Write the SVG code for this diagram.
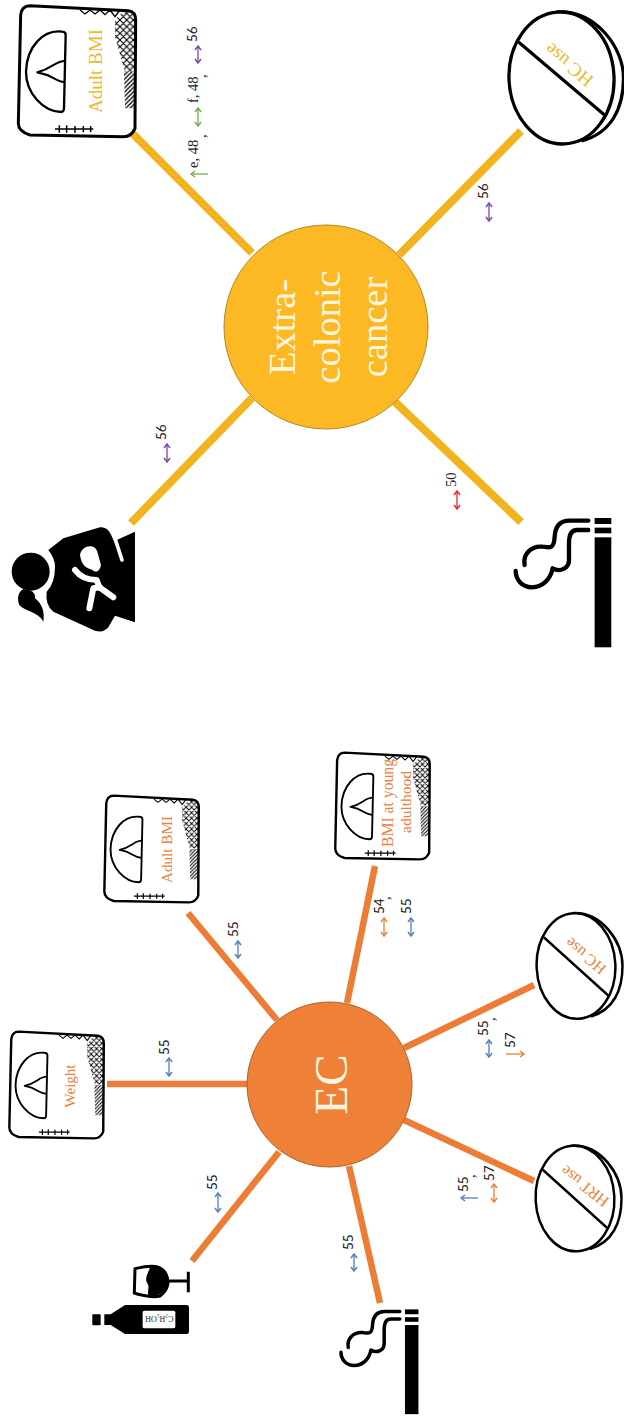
<svg xmlns="http://www.w3.org/2000/svg" width="624" height="1417" viewBox="0 0 624 1417">
<style>
.y{stroke:#F2B41E;stroke-width:8;fill:none}
.o{stroke:#ED7D35;stroke-width:6.5;fill:none}
.k{fill:none;stroke:#000;stroke-linecap:round;stroke-linejoin:round}
.ser{font-family:"Liberation Serif","Times New Roman",serif}
.san{font-family:Lato,"Liberation Sans",sans-serif;font-size:13.5px;fill:#222}
.ref{font-family:"Liberation Serif",serif;font-size:14.5px;fill:#222}
.hd{font-family:"Liberation Serif",serif;fill:#FFF6E0;text-anchor:middle}
.ty{fill:#EFB72E;font-family:"Liberation Serif",serif;text-anchor:middle}
.to{fill:#E98240;font-family:"Liberation Serif",serif;text-anchor:middle}
.ag{stroke:#6FAE4C;marker-end:url(#mg)}
.ap{stroke:#7449A6;marker-end:url(#mp)}
.ar{stroke:#DD2B35;marker-end:url(#mr)}
.ab{stroke:#4E7FC0;marker-end:url(#mb)}
.ao{stroke:#E9813C;marker-end:url(#mo)}
.ag.d{marker-start:url(#mg)}.ap.d{marker-start:url(#mp)}.ar.d{marker-start:url(#mr)}.ab.d{marker-start:url(#mb)}.ao.d{marker-start:url(#mo)}
.a{stroke-width:1.3;fill:none}
</style>
<defs>
<marker id="mg" markerUnits="userSpaceOnUse" markerWidth="10" markerHeight="10" refX="7" refY="5" orient="auto-start-reverse"><path d="M3 2L7 5L3 8" fill="none" stroke="#6FAE4C" stroke-width="1.4"/></marker>
<marker id="mp" markerUnits="userSpaceOnUse" markerWidth="10" markerHeight="10" refX="7" refY="5" orient="auto-start-reverse"><path d="M3 2L7 5L3 8" fill="none" stroke="#7449A6" stroke-width="1.4"/></marker>
<marker id="mr" markerUnits="userSpaceOnUse" markerWidth="10" markerHeight="10" refX="7" refY="5" orient="auto-start-reverse"><path d="M3 2L7 5L3 8" fill="none" stroke="#DD2B35" stroke-width="1.4"/></marker>
<marker id="mb" markerUnits="userSpaceOnUse" markerWidth="10" markerHeight="10" refX="7" refY="5" orient="auto-start-reverse"><path d="M3 2L7 5L3 8" fill="none" stroke="#4E7FC0" stroke-width="1.4"/></marker>
<marker id="mo" markerUnits="userSpaceOnUse" markerWidth="10" markerHeight="10" refX="7" refY="5" orient="auto-start-reverse"><path d="M3 2L7 5L3 8" fill="none" stroke="#E9813C" stroke-width="1.4"/></marker>
<pattern id="xh" patternUnits="userSpaceOnUse" width="20" height="20"><path d="M0 0L20 20M20 0L0 20M-5 15L5 25M15 -5L25 5" stroke="#000" stroke-width="3.4" fill="none"/></pattern>
<pattern id="sh" patternUnits="userSpaceOnUse" width="13" height="13"><path d="M-3 3L3 -3M0 13L13 0M10 16L16 10" stroke="#000" stroke-width="4" fill="none"/></pattern>
<clipPath id="bc"><path d="M90 17L385 32Q407 35 407 60L405 385Q395 410 370 410L90 405Q55 395 55 370L62 45Q65 17 90 17Z"/></clipPath>
<g id="scale" transform="scale(.3333)">
<path d="M90 17L385 32Q407 35 407 60L405 385Q395 410 370 410L90 405Q55 395 55 370L62 45Q65 17 90 17Z" fill="#fff" stroke="#000" stroke-width="9"/>
<g clip-path="url(#bc)">
<path d="M345 60L372 32H410V215H375L345 110Z" fill="url(#xh)"/>
<path d="M372 215H410V325H375Z" fill="url(#sh)"/>
<path d="M240 30L255 42L270 30L285 42L300 30L315 44L330 30L345 50L360 30" fill="none" stroke="#000" stroke-width="4"/>
</g>
<path d="M186 95C130 88 80 140 78 215C78 280 130 335 183 336Q192 336 192 325L197 105Q197 95 186 95Z" fill="none" stroke="#000" stroke-width="7"/>
<path d="M195 183C165 183 160 205 112 217C160 225 165 245 193 246" fill="none" stroke="#000" stroke-width="6.5" stroke-linejoin="round"/>
<path d="M165 387H280M178 376V398M200 376V398M225 378V398M250 378V397M272 378V396" fill="none" stroke="#000" stroke-width="4.5"/>
</g>
<g id="pill">
<path d="M-5 -66C35 -68 62 -30 62 0C62 30 50 55 20 63" fill="none" stroke="#000" stroke-width="3.3"/>
<ellipse cx="0" cy="0" rx="52.5" ry="66" transform="rotate(-3)" fill="#fff" stroke="#000" stroke-width="3.3"/>
<path d="M-43 -36L43 37" stroke="#000" stroke-width="3.2" fill="none"/>
</g>
<g id="smoke">
<rect x="848" y="562" width="50" height="330"/>
<rect x="848" y="504" width="50" height="18"/>
<rect x="848" y="533" width="50" height="17"/>
<path class="k" stroke-width="13" stroke-linecap="butt" d="M829 512H772C742 512 730 530 728 560C726 600 712 592 690 590C655 588 632 615 638 645"/>
<path class="k" stroke-width="13" stroke-linecap="butt" d="M829 540H795C778 540 771 555 771 580V630C771 655 745 668 722 655C715 690 690 712 660 712C630 712 612 690 611 663"/>
</g>
</defs>
<rect width="624" height="1417" fill="#fff"/>

<g id="connectors">
<path class="y" d="M132 133L252 253"/>
<path class="y" d="M521 131L399 255"/>
<path class="y" d="M131 523L252 398"/>
<path class="y" d="M521 522L395 402"/>
<path class="o" d="M188 913L277 1020"/>
<path class="o" d="M107 1084H248"/>
<path class="o" d="M192 1261L279 1152"/>
<path class="o" d="M375 866L347 1003"/>
<path class="o" d="M534 985L404 1048"/>
<path class="o" d="M534 1181L404 1120"/>
<path class="o" d="M380 1303L349 1166"/>
</g>

<g id="node-extracolonic">
<circle cx="326" cy="327" r="102" fill="#FDB924" stroke="#B08A2A" stroke-width="1"/>
<g class="hd" font-size="38.5">
<text transform="translate(295 327) rotate(-90)">Extra-</text>
<text transform="translate(340 327) rotate(-90)">colonic</text>
<text transform="translate(387 327) rotate(-90)">cancer</text>
</g>
</g>
<g id="node-ec">
<circle cx="329.5" cy="1084.5" r="82.5" fill="#EF8038" stroke="#A9612F" stroke-width="1"/>
<text class="hd" font-size="47" transform="translate(347 1084.5) rotate(-90)">EC</text>
</g>

<g id="node-y-adult-bmi">
<use href="#scale"/>
<text class="ty" font-size="19" transform="translate(102 71) rotate(-90)">Adult BMI</text>
</g>
<g id="node-y-hc">
<use href="#pill" transform="translate(561.5 78)"/>
<text class="ty" font-size="19" transform="translate(573 60) rotate(220)">HC use</text>
</g>
<g id="node-y-parity" transform="translate(0 350) scale(.3333)">
<path d="M145 600L190 565L300 532Q322 530 332 552L350 590V570L405 545V817L345 797L325 832Q310 850 285 842L160 785Q135 765 140 725Q165 700 165 650Q165 625 145 600Z"/>
<circle cx="92" cy="665" r="69" fill="#fff"/>
<circle cx="92" cy="665" r="57"/>
<path d="M70 718C55 725 50 745 58 765C75 785 115 785 130 815C135 785 125 760 105 745C108 730 95 718 70 718Z"/>
<path d="M345 565L366 630" stroke="#fff" stroke-width="11" stroke-linecap="round" fill="none"/>
<path d="M240 615C245 585 285 580 292 605L303 645C298 668 285 668 278 660C262 655 245 650 240 615Z" fill="#fff"/>
<path d="M225 660C240 680 262 690 290 690L298 712L340 742" stroke="#fff" stroke-width="18" stroke-linecap="round" stroke-linejoin="round" fill="none"/>
<path d="M268 775L280 715L300 712" stroke="#fff" stroke-width="18" stroke-linecap="round" stroke-linejoin="round" fill="none"/>
</g>
<g id="node-y-smoking">
<use href="#smoke" transform="translate(312 350) scale(.3333)"/>
</g>

<g id="node-o-adult-bmi">
<use href="#scale" transform="translate(89.6 791) scale(.805 .815)"/>
<text class="to" font-size="15.2" transform="translate(172 849.5) rotate(-90)">Adult BMI</text>
</g>
<g id="node-o-weight">
<use href="#scale" transform="translate(-5.4 1027) scale(.805 .815)"/>
<text class="to" font-size="15" transform="translate(75 1086) rotate(-90)">Weight</text>
</g>
<g id="node-o-young">
<use href="#scale" transform="translate(320.5 748) scale(.805 .815)"/>
<text class="to" font-size="15.7" transform="translate(393 803) rotate(-90)">BMI at young</text>
<text class="to" font-size="15.5" transform="translate(411 802) rotate(-90)">adulthood</text>
</g>
<g id="node-o-hc">
<use href="#pill" transform="translate(576 966) scale(.75 .8)"/>
<text class="to" font-size="16" transform="translate(589 952) rotate(220)">HC use</text>
</g>
<g id="node-o-hrt">
<use href="#pill" transform="translate(575 1198.5) scale(.75 .8)"/>
<text class="to" font-size="16" transform="translate(588 1182) rotate(218)">HRT use</text>
</g>
<g id="node-o-alcohol" transform="translate(0 1080) scale(.3333)">
<path d="M565 575V637M503 603H565" stroke="#000" stroke-width="9" fill="none"/>
<path d="M405 566C440 558 480 550 497 580C510 605 505 630 480 648C455 655 425 645 403 640Z" fill="#fff" stroke="#000" stroke-width="9" stroke-linejoin="round"/>
<path d="M450 562C480 552 500 580 503 605C503 630 480 650 450 650C436 640 452 625 442 610C432 595 445 580 450 562Z"/>
<path d="M313 703H332L375 675H560Q567 675 567 682V755Q567 762 560 762H375L332 735H313Z"/>
<rect x="277" y="703" width="25" height="33" rx="3"/>
<rect x="428" y="692" width="98" height="53" rx="5" fill="#fff"/>
<text class="ser" font-size="24" text-anchor="middle" fill="#222" transform="translate(478 708) rotate(180)">C₂H₅OH</text>
</g>
<g id="node-o-smoking">
<use href="#smoke" transform="translate(176 1173.3) scale(.27)"/>
</g>

<g id="labels">
<path class="a ag" d="M208 174H191"/>
<text class="ref" transform="translate(198 168) rotate(-90)">e, 48</text>
<text class="ref" transform="translate(206 138) rotate(-90)">,</text>
<path class="a ag d" d="M198 108V126"/>
<text class="ref" transform="translate(198 103) rotate(-90)">f, 48</text>
<text class="ref" transform="translate(206 78) rotate(-90)">,</text>
<path class="a ap d" d="M198 46V63"/>
<text class="san" transform="translate(197 42) rotate(-90)">56</text>

<path class="a ap d" d="M489 203V221"/>
<text class="san" transform="translate(488 199) rotate(-90)">56</text>
<path class="a ap d" d="M167 444V462"/>
<text class="san" transform="translate(166 440) rotate(-90)">56</text>
<path class="a ar d" d="M457 491V509"/>
<text class="ref" transform="translate(456 487) rotate(-90)">50</text>

<path class="a ab d" d="M238 941V958"/>
<text class="san" transform="translate(238 937) rotate(-90)">55</text>
<path class="a ab d" d="M169 1058V1076"/>
<text class="san" transform="translate(169 1055) rotate(-90)">55</text>
<path class="a ab d" d="M218 1193V1212"/>
<text class="san" transform="translate(217 1190) rotate(-90)">55</text>

<path class="a ao d" d="M384 918V936"/>
<text class="san" transform="translate(384 914) rotate(-90)">54</text>
<text class="ref" transform="translate(390 900) rotate(-90)">,</text>
<path class="a ab d" d="M411 918V936"/>
<text class="san" transform="translate(411 914) rotate(-90)">55</text>

<path class="a ab d" d="M489 1040V1057"/>
<text class="san" transform="translate(488 1036) rotate(-90)">55</text>
<text class="ref" transform="translate(495 1021) rotate(-90)">,</text>
<path class="a ao" d="M506 1054H524"/>
<text class="san" transform="translate(515 1048) rotate(-90)">57</text>

<path class="a ab" d="M478 1198H461"/>
<text class="san" transform="translate(468 1192) rotate(-90)">55</text>
<text class="ref" transform="translate(475 1178) rotate(-90)">,</text>
<path class="a ao d" d="M494 1184V1202"/>
<text class="san" transform="translate(494 1181) rotate(-90)">57</text>

<path class="a ab d" d="M354 1254V1271"/>
<text class="san" transform="translate(353 1250) rotate(-90)">55</text>
</g>
</svg>
